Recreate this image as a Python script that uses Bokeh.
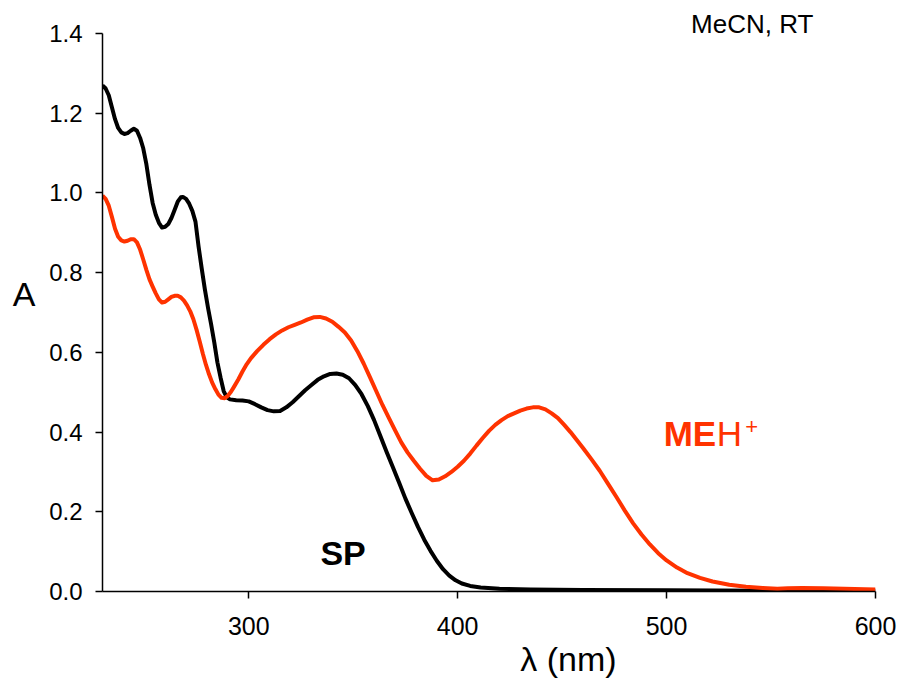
from bokeh.plotting import figure
from bokeh.models import (Range1d, FixedTicker, Label, NumeralTickFormatter,
                          LinearAxis, CustomJSTickFormatter)
from bokeh.embed import file_html
from bokeh.resources import INLINE

# SP (black) absorption spectrum
sp_nm = [230, 231.5, 233, 234.5, 236, 237.5, 239, 240.5, 242, 243.5, 245, 246.5, 248, 249.5,
         251, 252.5, 254, 255.5, 257, 258.5, 260, 261.5, 263, 264.5, 266, 267.5, 268.5, 270,
         271.5, 273, 274.5, 276, 277.5, 279, 280.5, 282, 283.5, 285, 286.5, 288, 289.5, 291,
         294, 297, 300, 303, 306, 309, 312, 315, 318, 321, 324, 327, 330, 333, 336, 339, 342,
         345, 348, 351, 354, 357, 360, 363, 366, 369, 372, 375, 378, 381, 384, 387, 390, 393,
         396, 399, 402, 406, 411, 420, 435, 460, 500, 550, 600]
sp_a = [1.270, 1.262, 1.245, 1.215, 1.185, 1.163, 1.152, 1.148, 1.150, 1.156, 1.161, 1.156,
        1.138, 1.112, 1.072, 1.020, 0.975, 0.945, 0.925, 0.913, 0.915, 0.922, 0.937, 0.957,
        0.978, 0.989, 0.990, 0.985, 0.973, 0.955, 0.928, 0.865, 0.810, 0.758, 0.712, 0.670,
        0.625, 0.575, 0.537, 0.503, 0.487, 0.482, 0.480, 0.479, 0.477, 0.470, 0.462, 0.455,
        0.452, 0.453, 0.462, 0.475, 0.490, 0.505, 0.518, 0.531, 0.540, 0.546, 0.547, 0.544,
        0.535, 0.518, 0.495, 0.465, 0.430, 0.390, 0.350, 0.312, 0.273, 0.233, 0.197, 0.162,
        0.130, 0.102, 0.077, 0.056, 0.040, 0.028, 0.020, 0.014, 0.010, 0.007, 0.005, 0.004,
        0.003, 0.002, 0.002]

# MEH+ (red) absorption spectrum
me_nm = [230, 231.5, 233, 234.5, 236, 237.5, 239, 240.5, 242, 243.5, 245, 246.5, 248, 249.5,
         251, 252.5, 254, 255.5, 257, 258.5, 260, 261.5, 263, 264.5, 266, 267.5, 269, 270.5,
         272, 273.5, 275, 276.5, 278, 279.5, 281, 282.5, 284, 285.5, 287, 288.5, 290, 291.5,
         293, 295, 297, 299, 301, 304, 307, 310, 313, 316, 319, 322, 325, 328, 331, 334, 337,
         340, 343, 346, 349, 352, 355, 358, 361, 364, 367, 370, 373, 376, 379, 382, 385, 388,
         391, 394, 397, 400, 403, 406, 409, 412, 415, 418, 421, 424, 427, 430, 433, 436, 439,
         442, 445, 448, 451, 454, 457, 460, 464, 468, 472, 476, 480, 484, 488, 492, 496, 500,
         505, 510, 516, 522, 530, 538, 546, 553, 558, 565, 575, 590, 600]
me_a = [0.993, 0.985, 0.968, 0.940, 0.910, 0.890, 0.881, 0.878, 0.880, 0.884, 0.884, 0.876,
        0.858, 0.833, 0.807, 0.783, 0.765, 0.748, 0.733, 0.725, 0.727, 0.733, 0.739, 0.742,
        0.742, 0.738, 0.730, 0.718, 0.703, 0.683, 0.657, 0.628, 0.597, 0.569, 0.545, 0.524,
        0.508, 0.494, 0.486, 0.485, 0.491, 0.501, 0.514, 0.532, 0.552, 0.570, 0.585, 0.603,
        0.619, 0.633, 0.645, 0.655, 0.663, 0.669, 0.675, 0.682, 0.688, 0.689, 0.685, 0.677,
        0.664, 0.650, 0.630, 0.603, 0.572, 0.538, 0.503, 0.468, 0.436, 0.405, 0.374, 0.349,
        0.328, 0.308, 0.290, 0.279, 0.281, 0.289, 0.300, 0.313, 0.328, 0.346, 0.366, 0.385,
        0.403, 0.418, 0.430, 0.440, 0.447, 0.454, 0.459, 0.462, 0.462, 0.457, 0.447, 0.435,
        0.418, 0.400, 0.380, 0.360, 0.332, 0.303, 0.270, 0.237, 0.203, 0.171, 0.143, 0.118,
        0.096, 0.078, 0.060, 0.046, 0.034, 0.025, 0.017, 0.012, 0.009, 0.007, 0.008, 0.009,
        0.008, 0.006, 0.005]

x_ticks = [300, 400, 500, 600]
y_ticks = [0.0, 0.2, 0.4, 0.6, 0.8, 1.0, 1.2, 1.4]

RED = "#ff3300"
FONT = "Liberation Sans"

p = figure(width=899, height=684, output_backend="svg", toolbar_location=None,
           x_range=Range1d(230, 600), y_range=Range1d(0, 1.4),
           min_border_left=102, min_border_right=24, min_border_top=33, min_border_bottom=93)
p.outline_line_color = None
p.xgrid.visible = False
p.ygrid.visible = False
p.background_fill_color = "white"
p.border_fill_color = "white"

for ax in (p.xaxis[0], p.yaxis[0]):
    ax.axis_line_color = "black"
    ax.axis_line_width = 1.5
    ax.major_tick_line_color = "black"
    ax.major_tick_line_width = 1.5
    ax.major_tick_out = 7
    ax.major_tick_in = 0
    ax.minor_tick_line_color = None
    ax.major_label_text_font = FONT
    ax.major_label_text_color = "black"

p.xaxis.ticker = FixedTicker(ticks=x_ticks)
p.yaxis.ticker = FixedTicker(ticks=y_ticks)
p.yaxis.formatter = NumeralTickFormatter(format="0.0")
p.xaxis.major_label_text_font_size = "25px"
p.yaxis.major_label_text_font_size = "24px"
p.xaxis.major_label_standoff = 18
p.yaxis.major_label_standoff = 13


def text_axis(where, pos, text, size, standoff):
    ax = LinearAxis(ticker=FixedTicker(ticks=[pos]),
                    formatter=CustomJSTickFormatter(code="return %r;" % text),
                    axis_line_color=None, major_tick_line_color=None,
                    minor_tick_line_color=None, major_tick_out=0, major_tick_in=0,
                    major_label_text_font=FONT, major_label_text_font_size=size,
                    major_label_text_color="black", major_label_standoff=standoff)
    p.add_layout(ax, where)


# axis titles and caption, placed through extra (line-less) axes
text_axis("left", 0.746, "A", "34px", 11)
text_axis("below", 453, "λ (nm)", "34px", 2)
text_axis("above", 541, "MeCN, RT", "26px", -5)

p.line(sp_nm, sp_a, line_color="black", line_width=4, line_join="round")
p.line(me_nm, me_a, line_color=RED, line_width=4, line_join="round")


def lab(x, y, text, size, color="black", style="normal"):
    p.add_layout(Label(x=x, y=y, text=text, text_font=FONT, text_font_size=size,
                       text_color=color, text_font_style=style, text_align="left",
                       text_baseline="alphabetic"))


lab(334.3, 0.096, "SP", "34px", style="bold")
lab(498.6, 0.397, "ME", "35px", color=RED, style="bold")
lab(524.0, 0.397, "H", "35px", color=RED)
lab(537.6, 0.414, "+", "22px", color=RED)

open("out.html", "w").write(file_html(p, INLINE))
